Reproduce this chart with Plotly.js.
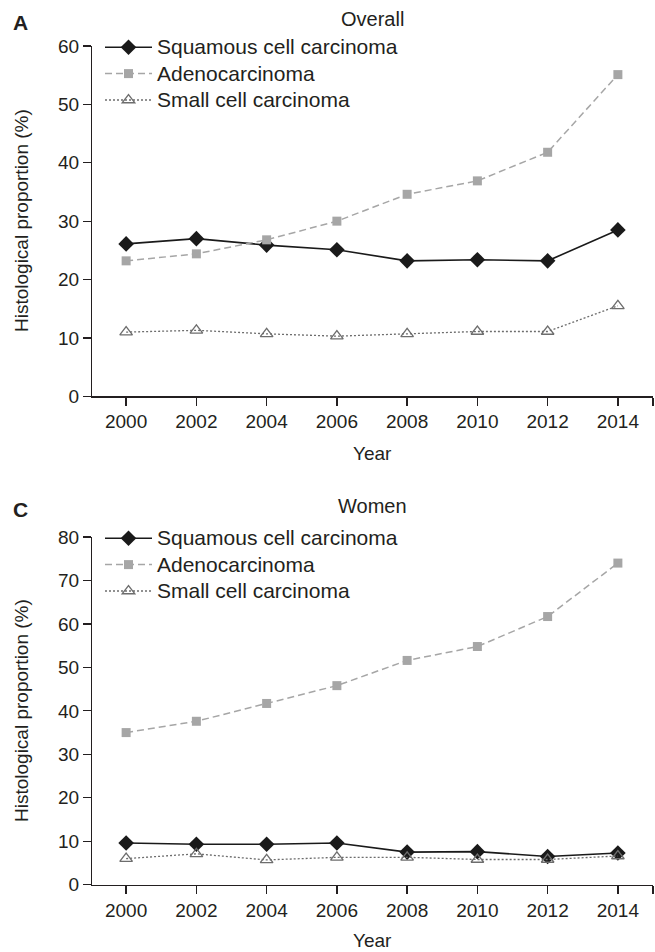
<!DOCTYPE html>
<html>
<head>
<meta charset="utf-8">
<script src="https://cdn.plot.ly/plotly-3.0.1.min.js"></script>
<style>html,body{margin:0;padding:0;background:#fff;}#chart{width:655px;height:952px;}</style>
</head>
<body>
<div id="chart"></div>
<script>
var years = [2000, 2002, 2004, 2006, 2008, 2010, 2012, 2014];
var seriesNames = ['Squamous cell carcinoma', 'Adenocarcinoma', 'Small cell carcinoma'];

// Panel A: Overall
var overallSquamous = [26.1, 27.0, 25.9, 25.1, 23.2, 23.4, 23.2, 28.5];
var overallAdeno    = [23.2, 24.4, 26.8, 30.0, 34.6, 36.9, 41.8, 55.1];
var overallSmall    = [11.0, 11.3, 10.7, 10.3, 10.7, 11.1, 11.1, 15.5];

// Panel C: Women
var womenSquamous = [9.6, 9.3, 9.3, 9.6, 7.5, 7.6, 6.5, 7.3];
var womenAdeno    = [35.0, 37.6, 41.7, 45.8, 51.6, 54.8, 61.7, 74.0];
var womenSmall    = [6.0, 7.1, 5.7, 6.3, 6.3, 5.8, 5.8, 6.6];

var xTickVals = [2000, 2002, 2004, 2006, 2008, 2010, 2012, 2014, 2015];
var xTickText = ['2000', '2002', '2004', '2006', '2008', '2010', '2012', '2014', ''];

var FONT = 'Liberation Sans, Arial, sans-serif';
var INK = '#231f20';
var FS = 19;

function styles(i) {
  if (i === 0) return {line: {color: '#1a1a1a', width: 1.6, dash: 'solid'},
                       marker: {symbol: 'diamond', size: 12, color: '#1a1a1a'}};
  if (i === 1) return {line: {color: '#a6a6a6', width: 1.5, dash: '7px,4px'},
                       marker: {symbol: 'square', size: 9, color: '#a6a6a6'}};
  return {line: {color: '#6d6d6d', width: 1.3, dash: '2px,2px'},
          marker: {symbol: 'triangle-up-open', size: 11, color: '#6d6d6d', line: {width: 1.3, color: '#6d6d6d'}}};
}

function legendLabel(name) { return '<span style="font-size:21px">' + name + '</span>'; }

var traces = [];
[overallSquamous, overallAdeno, overallSmall].forEach(function (vals, i) {
  var s = styles(i);
  traces.push({x: years, y: vals, name: legendLabel(seriesNames[i]), type: 'scatter', mode: 'lines+markers',
               line: s.line, marker: s.marker, xaxis: 'x', yaxis: 'y', legend: 'legend', cliponaxis: false});
});
[womenSquamous, womenAdeno, womenSmall].forEach(function (vals, i) {
  var s = styles(i);
  traces.push({x: years, y: vals, name: legendLabel(seriesNames[i]), type: 'scatter', mode: 'lines+markers',
               line: s.line, marker: s.marker, xaxis: 'x2', yaxis: 'y2', legend: 'legend2', cliponaxis: false});
});

var H = 952, L = 91, PW = 562;
function dom(topPx, botPx) { return [(H - botPx) / H, (H - topPx) / H]; }
function px(xp) { return (xp - L) / PW; }
function py(yp) { return 1 - yp / H; }

var axBase = {
  showline: true, linecolor: INK, linewidth: 1.3, ticks: 'outside', ticklen: 8, tickwidth: 1.3,
  tickcolor: INK, showgrid: false, zeroline: false, tickfont: {family: FONT, size: FS, color: INK}
};
function xax(anchor) {
  return Object.assign({}, axBase, {range: [1999, 2015], tickmode: 'array', tickvals: xTickVals,
    ticktext: xTickText, anchor: anchor, domain: [0, 1], fixedrange: true});
}
function yax(maxV, d) {
  return Object.assign({}, axBase, {range: [0, maxV], dtick: 10, tick0: 0, domain: d, anchor: 'free', position: 0});
}

var legendBase = {
  font: {family: FONT, size: 18, color: INK}, bgcolor: 'rgba(0,0,0,0)', borderwidth: 0,
  xanchor: 'left', yanchor: 'top', tracegroupgap: 0, itemclick: false, itemwidth: 47
};

function ann(text, x, y, opts) {
  return Object.assign({text: text, xref: 'paper', yref: 'paper', x: x, y: y, xanchor: 'center', yanchor: 'middle',
    showarrow: false, font: {family: FONT, size: FS, color: INK}}, opts || {});
}

var layout = {
  width: 655, height: 952,
  margin: {l: L, r: 2, t: 0, b: 0},
  paper_bgcolor: '#fff', plot_bgcolor: '#fff',
  font: {family: FONT, color: INK},
  showlegend: true,
  xaxis: xax('y'),
  yaxis: yax(60, dom(46, 396.3)),
  xaxis2: xax('y2'),
  yaxis2: yax(80, dom(537, 884.7)),
  legend: Object.assign({}, legendBase, {x: px(100), y: py(29)}),
  legend2: Object.assign({}, legendBase, {x: px(100), y: py(520)}),
  annotations: [
    ann('A', px(11), py(22), {xanchor: 'left', font: {family: FONT, size: 21, color: INK, weight: 'bold'}}),
    ann('Overall', 0.5, py(19), {font: {family: FONT, size: 20, color: INK}}),
    ann('Year', 0.5, py(453)),
    ann('Histological proportion (%)', px(21), py(221), {textangle: -90}),
    ann('C', px(11), py(509), {xanchor: 'left', font: {family: FONT, size: 21, color: INK, weight: 'bold'}}),
    ann('Women', 0.5, py(506), {font: {family: FONT, size: 20, color: INK}}),
    ann('Year', 0.5, py(940)),
    ann('Histological proportion (%)', px(21), py(711), {textangle: -90})
  ]
};

Plotly.newPlot('chart', traces, layout, {displayModeBar: false, staticPlot: true});
</script>
</body>
</html>
